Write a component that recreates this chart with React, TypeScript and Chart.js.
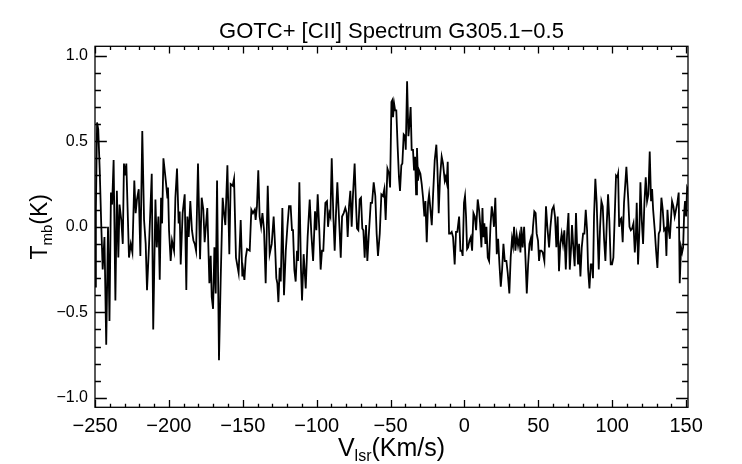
import React, { useEffect, useRef } from 'react';
import { Chart, registerables } from 'chart.js';

Chart.register(...registerables);

const FONT = "'Liberation Sans', Arial, Helvetica, sans-serif";

const titleText = 'GOTC+ [CII] Spectrum G305.1\u22120.5';
const xTitleParts: [string, boolean][] = [['V', false], ['lsr', true], ['(Km/s)', false]];
const yTitleParts: [string, boolean][] = [['T', false], ['mb', true], ['(K)', false]];

const xTickValues = [-250, -200, -150, -100, -50, 0, 50, 100, 150];
const xTickLabels = ['\u2212250', '\u2212200', '\u2212150', '\u2212100', '\u221250', '0', '50', '100', '150'];
const yTickValues = [-1, -0.5, 0, 0.5, 1];
const yTickLabels = ['\u22121.0', '\u22120.5', '0.0', '0.5', '1.0'];

const X_MIN = -250;
const X_MAX = 151.3;
const Y_MIN = -1.055;
const Y_MAX = 1.055;

// Spectrum: LSR velocity (km/s) and main-beam temperature (K)
const velocity = [
  -250.0, -249.4, -248.6, -247.8, -246.8, -245.8, -244.8, -243.6, -242.4, -241.2,
  -240.2, -239.2, -238.4, -237.4, -236.2, -235.2, -234.2, -233.4, -232.2, -231.2,
  -230.4, -229.6, -228.8, -227.0, -225.8, -224.7, -223.4, -222.5, -221.6, -220.4,
  -219.3, -218.0, -216.8, -215.7, -214.8, -213.4, -211.6, -210.6, -209.1, -208.2,
  -207.1, -206.2, -205.3, -204.6, -203.7, -202.1, -201.0,
  -200.6, -199.9, -198.8, -197.9, -196.5, -195.6, -194.5, -193.4, -192.7, -192.0,
  -190.7, -189.3, -188.2, -187.5, -186.6, -185.5, -184.4, -183.4, -182.5, -181.6,
  -180.3, -178.9, -177.8, -176.7, -175.8, -174.0, -172.6, -171.7, -171.0, -170.1,
  -169.2, -168.3, -167.4, -166.1, -164.9, -163.6, -162.7, -161.8, -160.4, -159.1,
  -158.2, -156.8, -155.9, -154.6, -152.8, -151.4, -150.3,
  -149.8, -148.9, -148.0, -147.1, -145.3, -144.2, -143.1, -141.9, -141.3, -140.4,
  -139.5, -138.6, -137.6, -136.7, -135.6, -134.5, -133.1, -131.8, -130.4, -129.1,
  -128.2, -127.3, -126.6, -125.9, -125.0, -124.3, -123.2, -122.1, -120.9, -119.8,
  -118.7, -117.6, -116.7, -116.0, -115.1, -114.2, -113.3, -112.6, -111.7, -110.6,
  -109.9, -108.8, -107.4, -106.1, -104.7, -103.6, -102.4, -101.1, -100.2, -99.3,
  -98.2, -97.3, -96.4, -95.5, -94.1, -93.0, -92.3, -91.4, -90.7, -89.8,
  -88.7, -87.8, -86.9, -86.0, -84.6, -83.7, -82.8, -81.7, -80.6, -79.7,
  -79.0, -78.1, -77.2, -76.3, -75.4, -74.3, -73.4, -72.7, -71.8, -70.9,
  -70.0, -69.1, -68.4, -67.5, -66.6, -65.7, -64.8, -63.4, -62.5, -61.4,
  -60.3, -59.4, -58.5, -57.3, -56.2, -55.1, -54.2, -53.3, -52.1, -51.0,
  -50.3, -49.4, -48.8,
  -48.3, -47.6, -46.9, -46.1, -45.2, -44.3, -43.6, -42.7, -42.0, -41.1,
  -40.2, -39.7, -38.8, -37.9, -37.0, -36.4, -35.7, -34.8, -34.1, -33.4,
  -32.7, -32.1, -31.4, -30.7, -29.8, -28.9, -28.0, -27.1, -26.4, -25.5,
  -24.6, -23.9, -23.0, -22.1, -21.2, -20.1, -19.0, -18.3, -17.4, -16.5,
  -15.4, -14.5, -13.3, -12.7, -12.0, -11.3, -10.4, -9.5, -8.6, -7.7,
  -6.6, -5.7, -4.8, -3.6, -2.7, -1.8, -1.2, -0.3, 0.4, 1.1, 1.8,
  2.5, 3.4, 4.3, 5.2, 6.1, 7.0, 7.9, 9.0, 9.9, 10.6,
  11.5, 12.2, 12.8, 13.5, 14.2, 14.9, 15.8, 16.7, 17.6, 18.5,
  19.4, 20.0, 20.9, 21.9, 22.8, 23.7, 24.6, 25.5, 26.4, 27.3,
  28.4, 29.3, 30.4, 31.3, 32.2, 32.9, 33.6, 34.5, 35.4, 36.3,
  37.2, 37.9, 38.5, 39.4, 40.4, 41.3, 42.2, 43.1, 44.0, 44.9,
  45.5, 46.4, 47.3, 48.2, 48.9, 49.8, 50.5, 51.2, 52.1, 53.0,
  54.1, 55.2, 56.1, 57.3, 58.2, 59.3, 60.4, 61.3, 62.2, 63.1,
  64.0, 64.9, 65.8, 66.7, 67.6, 68.6, 69.5, 70.4, 71.3, 72.2,
  72.8, 73.7, 74.6, 75.5, 76.2, 76.9, 77.6, 78.5, 79.4, 80.3,
  81.2, 82.1, 83.0, 83.7, 84.6, 85.5, 86.4, 87.0, 87.7, 88.6,
  89.5, 90.2, 90.9, 91.8, 92.7, 93.6, 94.5, 95.4, 96.3, 97.2,
  98.1, 99.0, 99.9, 100.8, 101.7, 102.6, 103.5,
  104.0, 104.7, 105.3, 106.2, 107.1, 108.0, 109.0, 109.6, 110.8, 111.7,
  112.6, 113.5, 114.4, 115.3, 116.0, 116.6, 117.5, 118.4, 119.1, 120.0,
  120.9, 121.8, 122.7, 123.6, 124.5, 125.4, 126.3, 127.0, 127.7, 128.8,
  129.7, 130.6, 131.5, 132.4, 133.3, 134.2, 135.1, 136.0, 136.7, 137.4,
  138.3, 139.0, 139.6, 140.5, 141.4, 142.3, 143.2, 144.1, 145.0, 145.7,
  146.6, 147.3, 148.0, 148.7, 149.3, 150.0, 150.7, 151.2,
];

const tmb = [
  -0.35, 0.10, 0.61, 0.57, 0.33, 0.02, -0.25, -0.06, -0.69, 0.00,
  -0.55, 0.20, 0.13, 0.39, -0.43, 0.21, -0.18, 0.13, 0.04, -0.10,
  0.37, 0.30, 0.37, -0.18, -0.10, -0.15, 0.27, 0.08, 0.16, 0.22,
  -0.17, 0.56, 0.04, -0.10, -0.37, -0.10, 0.31, -0.60, 0.16, -0.12,
  0.06, -0.31, 0.17, 0.02, 0.40, 0.27, 0.17,
  0.23, -0.02, -0.20, -0.08, -0.14, 0.17, 0.34, 0.02, 0.09, -0.22,
  0.08, 0.19, -0.37, 0.06, -0.06, 0.15, -0.02, -0.08, -0.10, -0.14,
  0.37, -0.19, 0.17, 0.10, -0.09, 0.11, -0.33, -0.17, -0.41, -0.48,
  -0.12, -0.39, 0.27, -0.78, -0.29, 0.17, 0.08, 0.01, 0.36, -0.16,
  0.25, 0.24, 0.28, -0.18, -0.27, 0.04, -0.29,
  -0.25, -0.31, -0.18, -0.13, -0.14, 0.10, 0.08, 0.10, 0.04, 0.12,
  0.33, 0.06, 0.00, 0.08, -0.02, -0.33, 0.24, -0.16, -0.10, 0.06,
  -0.10, -0.30, -0.33, -0.44, -0.24, -0.32, 0.11, -0.40, -0.14, 0.00,
  0.12, 0.12, -0.02, -0.02, -0.25, -0.32, -0.14, -0.20, 0.26, -0.25,
  -0.43, -0.16, -0.36, -0.06, 0.16, -0.04, -0.20, 0.09, -0.02, 0.19,
  -0.02, -0.25, -0.14, -0.14, 0.14, 0.15, 0.00, 0.08, 0.06, 0.40,
  0.06, -0.14, 0.08, 0.26, 0.00, -0.18, 0.06, 0.08, 0.11, 0.08,
  -0.06, 0.12, 0.21, 0.00, 0.19, 0.37, 0.14, -0.01, -0.02, 0.16,
  0.17, -0.01, -0.02, -0.18, 0.01, -0.20, -0.06, 0.14, 0.14, 0.26,
  0.18, -0.04, -0.17, -0.04, 0.19, 0.18, 0.22, 0.04, 0.34, 0.31,
  0.23, 0.73, 0.74,
  0.64, 0.72, 0.68, 0.68, 0.47, 0.29, 0.21, 0.36, 0.37, 0.54,
  0.53, 0.45, 0.85, 0.53, 0.62, 0.70, 0.45, 0.45, 0.33, 0.41,
  0.19, 0.46, 0.27, 0.33, 0.31, 0.25, 0.17, 0.06, 0.15, -0.09,
  0.14, 0.19, 0.10, 0.01, 0.19, 0.39, 0.48, 0.35, 0.08, 0.29,
  0.41, 0.37, 0.27, 0.29, 0.26, 0.38, -0.04, -0.04, -0.03, -0.06,
  -0.22, -0.03, -0.03, 0.06, -0.14, -0.14, -0.17, 0.14, 0.18, 0.06, -0.13,
  -0.12, -0.08, -0.06, -0.14, 0.08, 0.06, -0.02, 0.16, 0.10, 0.02,
  -0.12, 0.11, -0.06, 0.02, -0.10, 0.00, -0.18, -0.20, 0.00, 0.12,
  0.06, 0.00, 0.17, -0.16, -0.07, -0.22, -0.35, -0.25, -0.10, -0.20,
  -0.20, -0.27, -0.39, -0.18, -0.07, -0.11, 0.00, -0.14, -0.05, -0.11,
  -0.06, -0.15, 0.00, -0.12, 0.00, -0.18, -0.39, -0.22, -0.10, -0.07,
  -0.14, 0.00, 0.09, 0.08, -0.04, -0.08, -0.20, -0.14, -0.14, -0.15,
  -0.20, 0.12, 0.00, -0.12, 0.00, 0.10, 0.12, 0.06, -0.12, 0.06,
  -0.26, -0.10, -0.04, -0.10, -0.02, -0.25, -0.04, 0.08, -0.25, -0.12,
  0.01, -0.12, -0.23, 0.08, -0.10, -0.22, -0.10, -0.29, -0.12, -0.04,
  -0.04, 0.10, -0.02, -0.25, -0.36, -0.22, -0.22, -0.30, 0.06, 0.28,
  0.14, -0.06, -0.25, 0.00, 0.15, 0.12, -0.07, -0.20, 0.01, 0.19,
  0.03, -0.22, -0.22, -0.18, 0.06, 0.30, 0.29,
  0.31, 0.00, 0.04, 0.05, -0.09, 0.14, 0.27, 0.35, 0.17, 0.00,
  -0.02, -0.01, 0.02, -0.15, -0.06, 0.14, -0.22, -0.02, 0.26, 0.04,
  -0.10, 0.14, 0.29, 0.15, 0.19, 0.44, 0.15, 0.22, 0.10, -0.02,
  -0.14, -0.24, -0.04, -0.02, 0.17, 0.10, -0.02, -0.01, -0.17, 0.10,
  -0.02, -0.07, 0.02, 0.15, 0.12, 0.06, 0.10, 0.14, 0.20, -0.33,
  -0.12, -0.15, -0.12, 0.08, 0.15, 0.06, 0.23, 0.22,
];

function drawParts(
  ctx: CanvasRenderingContext2D,
  parts: [string, boolean][],
  cx: number,
  baseY: number,
  size: number,
  subSize: number,
  subDrop: number
) {
  const widths = parts.map(([t, sub]) => {
    ctx.font = `${sub ? subSize : size}px ${FONT}`;
    return ctx.measureText(t).width;
  });
  const total = widths.reduce((a, b) => a + b, 0);
  let x = cx - total / 2;
  parts.forEach(([t, sub], i) => {
    ctx.font = `${sub ? subSize : size}px ${FONT}`;
    ctx.fillText(t, x, baseY + (sub ? subDrop : 0));
    x += widths[i];
  });
}

const idlFrame = {
  id: 'idlFrame',
  afterDraw(chart: any) {
    const { ctx, chartArea: a, scales } = chart;
    const xs = scales.x;
    const ys = scales.y;
    const w = a.right - a.left;
    const h = a.bottom - a.top;
    const xMaj = 0.02 * h;
    const yMaj = 0.02 * w;
    ctx.save();
    ctx.strokeStyle = '#000';
    ctx.lineWidth = 1.3;
    ctx.strokeRect(a.left, a.top, w, h);
    ctx.beginPath();
    for (let v = -250; v <= 150; v += 10) {
      const px = Math.round(xs.getPixelForValue(v)) + 0.5;
      const len = xTickValues.includes(v) ? xMaj : xMaj / 2;
      ctx.moveTo(px, a.bottom);
      ctx.lineTo(px, a.bottom - len);
      ctx.moveTo(px, a.top);
      ctx.lineTo(px, a.top + len);
    }
    for (let k = -10; k <= 10; k++) {
      const v = k / 10;
      const py = Math.round(ys.getPixelForValue(v)) + 0.5;
      const len = k % 5 === 0 ? yMaj : yMaj / 2;
      ctx.moveTo(a.left, py);
      ctx.lineTo(a.left + len, py);
      ctx.moveTo(a.right, py);
      ctx.lineTo(a.right - len, py);
    }
    ctx.stroke();

    ctx.fillStyle = '#000';
    ctx.textAlign = 'left';
    ctx.textBaseline = 'alphabetic';
    ctx.font = `22px ${FONT}`;
    const tw = ctx.measureText(titleText).width;
    ctx.fillText(titleText, (a.left + a.right) / 2 - tw / 2, 38);

    drawParts(ctx, xTitleParts, (a.left + a.right) / 2, 456, 25, 16, 5);

    ctx.translate(47, (a.top + a.bottom) / 2);
    ctx.rotate(-Math.PI / 2);
    drawParts(ctx, yTitleParts, 0, 0, 23, 15, 5);
    ctx.restore();
  },
};

export default function App() {
  const ref = useRef<HTMLCanvasElement | null>(null);

  useEffect(() => {
    if (!ref.current) return;
    const points = velocity.map((v, i) => ({ x: v, y: tmb[i] }));
    const chart = new Chart(ref.current, {
      type: 'line',
      data: {
        datasets: [
          {
            data: points,
            borderColor: '#000',
            borderWidth: 1.8,
            pointRadius: 0,
            tension: 0,
            fill: false,
          },
        ],
      },
      options: {
        animation: false,
        responsive: false,
        maintainAspectRatio: false,
        events: [],
        layout: { padding: { left: 0, right: 54, top: 46.3, bottom: 0 } },
        plugins: {
          legend: { display: false },
          tooltip: { enabled: false },
          title: { display: false },
        },
        scales: {
          x: {
            type: 'linear',
            position: 'bottom',
            min: X_MIN,
            max: X_MAX,
            grid: { display: false, drawTicks: false },
            border: { display: false },
            afterBuildTicks: (s: any) => {
              s.ticks = xTickValues.map((v) => ({ value: v }));
            },
            afterFit: (s: any) => {
              s.height = 464 - 407.3;
            },
            ticks: {
              autoSkip: false,
              maxRotation: 0,
              padding: 7,
              color: '#000',
              font: { family: FONT, size: 20 },
              callback: (v: any) => {
                const i = xTickValues.indexOf(Number(v));
                return i >= 0 ? xTickLabels[i] : '';
              },
            },
          },
          y: {
            type: 'linear',
            position: 'left',
            min: Y_MIN,
            max: Y_MAX,
            grid: { display: false, drawTicks: false },
            border: { display: false },
            afterBuildTicks: (s: any) => {
              s.ticks = yTickValues.map((v) => ({ value: v }));
            },
            afterFit: (s: any) => {
              s.width = 95;
            },
            ticks: {
              autoSkip: false,
              padding: 7,
              color: '#000',
              font: { family: FONT, size: 16 },
              callback: (v: any) => {
                const i = yTickValues.indexOf(Number(v));
                return i >= 0 ? yTickLabels[i] : '';
              },
            },
          },
        },
      },
      plugins: [idlFrame],
    });
    return () => chart.destroy();
  }, []);

  return (
    <div style={{ position: 'absolute', left: 0, top: 0, width: 742, height: 464, background: '#fff' }}>
      <canvas ref={ref} width={742} height={464} style={{ width: 742, height: 464, display: 'block' }} />
    </div>
  );
}
